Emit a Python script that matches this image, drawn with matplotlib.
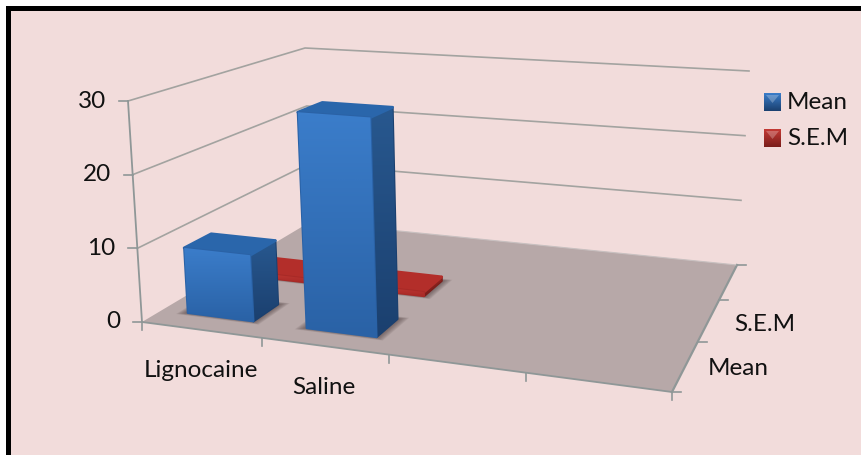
import numpy as np
import matplotlib
matplotlib.use('Agg')
import matplotlib.pyplot as plt
from matplotlib.patches import Polygon, Rectangle

plt.rcParams['font.family'] = ['Lato', 'DejaVu Sans']

categories = ['Lignocaine', 'Saline', '', '']
series_names = ['Mean', 'S.E.M']
mean_values = [9, 29]
sem_values = [0.6, 0.6]
value_ticks = [0, 10, 20, 30]

W, H = 861, 455
BG = '#f2dcdb'
FLOOR = '#b7a8a8'
GRID = '#a3a3a0'
AXIS = '#8f9797'
TEXT = '#111111'
FS = 17.5

# pixel corners of the box: front-left, front-right, back-right, back-left
FLOOR_PTS = [(142, 322), (672, 392), (737, 265), (310, 222)]
TOP_PTS = [(128, 101), (688, 142), (749, 71), (305, 48)]


def homography(pts):
    src = [(0, 0), (1, 0), (1, 1), (0, 1)]
    rows, rhs = [], []
    for (u, v), (px, py) in zip(src, pts):
        rows.append([u, v, 1, 0, 0, 0, -u * px, -v * px])
        rows.append([0, 0, 0, u, v, 1, -u * py, -v * py])
        rhs += [px, py]
    return np.append(np.linalg.solve(np.array(rows, float), np.array(rhs, float)), 1).reshape(3, 3)


H_FLOOR = homography(FLOOR_PTS)
H_TOP = homography(TOP_PTS)


def proj(cat, ser, val):
    # category, series depth and value to pixels
    p = np.array([cat / len(categories), ser / 3, 1.0])
    a = H_FLOOR @ p
    b = H_TOP @ p
    a = a[:2] / a[2]
    b = b[:2] / b[2]
    return tuple(a + (b - a) * val / value_ticks[-1])


def grad_poly(ax, pts, c1, c2, z):
    # vertical gradient filled polygon
    pts = np.array(pts)
    poly = Polygon(pts, closed=True, fc='none', ec='none', zorder=z)
    ax.add_patch(poly)
    img = np.linspace(0, 1, 64).reshape(-1, 1)
    cmap = matplotlib.colors.LinearSegmentedColormap.from_list('f', [c1, c2])
    im = ax.imshow(img, cmap=cmap, aspect='auto', zorder=z, interpolation='bilinear',
                   extent=(pts[:, 0].min(), pts[:, 0].max(), pts[:, 1].max(), pts[:, 1].min()))
    im.set_clip_path(poly)


def shadow(ax, pts, z):
    # soft dark halo around the foot of a bar
    pts = np.array(pts)
    c = pts.mean(axis=0)
    for k in np.linspace(1.26, 1.03, 8):
        ax.add_patch(Polygon(c + (pts - c) * k, closed=True, fc='#4a3a3a', ec='none', alpha=0.1, zorder=z))


def draw_bar(ax, i, ser, val, cols, z):
    x0, x1 = i + 0.22, i + 0.78
    y0, y1 = ser + 0.3, ser + 0.72
    fl, fr = proj(x0, y0, 0), proj(x1, y0, 0)
    br, bl = proj(x1, y1, 0), proj(x0, y1, 0)
    tfl, tfr = proj(x0, y0, val), proj(x1, y0, val)
    tbr, tbl = proj(x1, y1, val), proj(x0, y1, val)
    shadow(ax, [fl, fr, br, bl], z)
    # rounded silhouette behind the faces
    ax.add_patch(Polygon([tfr, tbr, br, fr], closed=True, fc=cols[3], ec=cols[3], lw=1.5, joinstyle='round', zorder=z + 0.05))
    grad_poly(ax, [tfr, tbr, br, fr], cols[2], cols[3], z + 0.1)
    ax.add_patch(Polygon([tfl, tfr, tbr, tbl], closed=True, fc=cols[4], ec=cols[4], lw=2, joinstyle='round', zorder=z + 0.2))
    ax.add_patch(Polygon([tfl, tfr, fr, fl], closed=True, fc=cols[1], ec=cols[1], lw=1.5, joinstyle='round', zorder=z + 0.25))
    grad_poly(ax, [tfl, tfr, fr, fl], cols[0], cols[1], z + 0.3)


fig = plt.figure(figsize=(W / 100, H / 100), dpi=100, facecolor='white')
ax = fig.add_axes([0, 0, 1, 1])
ax.set_xlim(0, W)
ax.set_ylim(H, 0)
ax.axis('off')

# panel with its dark top and left rules
ax.add_patch(Rectangle((6, 6), W - 6, H - 6, fc=BG, ec='none', zorder=0))
ax.add_patch(Rectangle((6, 6), W - 6, 5, fc='black', ec='none', zorder=0.5))
ax.add_patch(Rectangle((6, 6), 5, H - 6, fc='black', ec='none', zorder=0.5))

# floor
floor = [proj(0, 0, 0), proj(4, 0, 0), proj(4, 3, 0), proj(0, 3, 0)]
ax.add_patch(Polygon(floor, closed=True, fc=FLOOR, ec='none', zorder=1))

# walls and gridlines
for v in value_ticks:
    pts = [proj(0, 0, v), proj(0, 3, v), proj(4, 3, v)]
    if v > 0:
        ax.plot(*zip(*pts), color=GRID, lw=1.2, zorder=1.5)
    tick = proj(0, 0, v)
    ax.plot([tick[0] - 9, tick[0]], [tick[1], tick[1]], color=AXIS, lw=1.2, zorder=2)
    ax.text(tick[0] - 22, tick[1], str(v), ha='right', va='center', fontsize=FS, color=TEXT)

ax.plot(*zip(proj(0, 0, 0), proj(0, 0, 30)), color=AXIS, lw=1.3, zorder=2)
ax.plot(*zip(proj(0, 0, 0), proj(4, 0, 0)), color=AXIS, lw=1.3, zorder=2)
ax.plot(*zip(proj(4, 0, 0), proj(4, 3, 0)), color=AXIS, lw=1.6, zorder=2)
ax.plot(*zip(proj(0, 3, 0), proj(4, 3, 0)), color='#c8c0c0', lw=0.8, zorder=2)

for i in range(len(categories) + 1):
    p = proj(i, 0, 0)
    ax.plot([p[0], p[0]], [p[1], p[1] + 8], color=AXIS, lw=1.2, zorder=2)
for s in range(4):
    p = proj(4, s, 0)
    ax.plot([p[0], p[0] + 9], [p[1], p[1]], color=AXIS, lw=1.2, zorder=2)

# category and series labels
for i, name in enumerate(categories[:2]):
    p = proj(i + 0.5, 0, 0)
    ax.text(p[0] - i, p[1] + 41, name, ha='center', va='center', fontsize=FS, color=TEXT)
for s, name in enumerate(series_names):
    p = proj(4, s + 0.5, 0)
    ax.text(p[0] + 22 + s * 4, p[1] + 3 + s, name, ha='left', va='center', fontsize=FS, color=TEXT)

blue = ('#3b7dca', '#2a62a6', '#28588f', '#1b406f', '#2a66ab')
red = ('#c43a35', '#a82a27', '#902420', '#7a1d1a', '#b32e2a')

# back row first so the front row covers it
for i, v in enumerate(sem_values):
    draw_bar(ax, i, 1, v, red, 3 + i)
for i, v in enumerate(mean_values):
    draw_bar(ax, i, 0, v, blue, 6 + i)

# legend keys with a small bevelled highlight
for k, (name, cols) in enumerate(zip(series_names, (blue, red))):
    y = 102 + k * 36
    grad_poly(ax, [(764, y - 9), (781, y - 9), (781, y + 9), (764, y + 9)], cols[0], cols[3], 10)
    ax.add_patch(Polygon([(766, y - 7), (779, y - 7), (772.5, y + 1)], closed=True, fc='white', ec='none', alpha=0.25, zorder=11))
    ax.text(787, y + 0.5, name, ha='left', va='center', fontsize=FS, color=TEXT)

ax.set_xlim(0, W)
ax.set_ylim(H, 0)
fig.savefig('out.png', dpi=100)
